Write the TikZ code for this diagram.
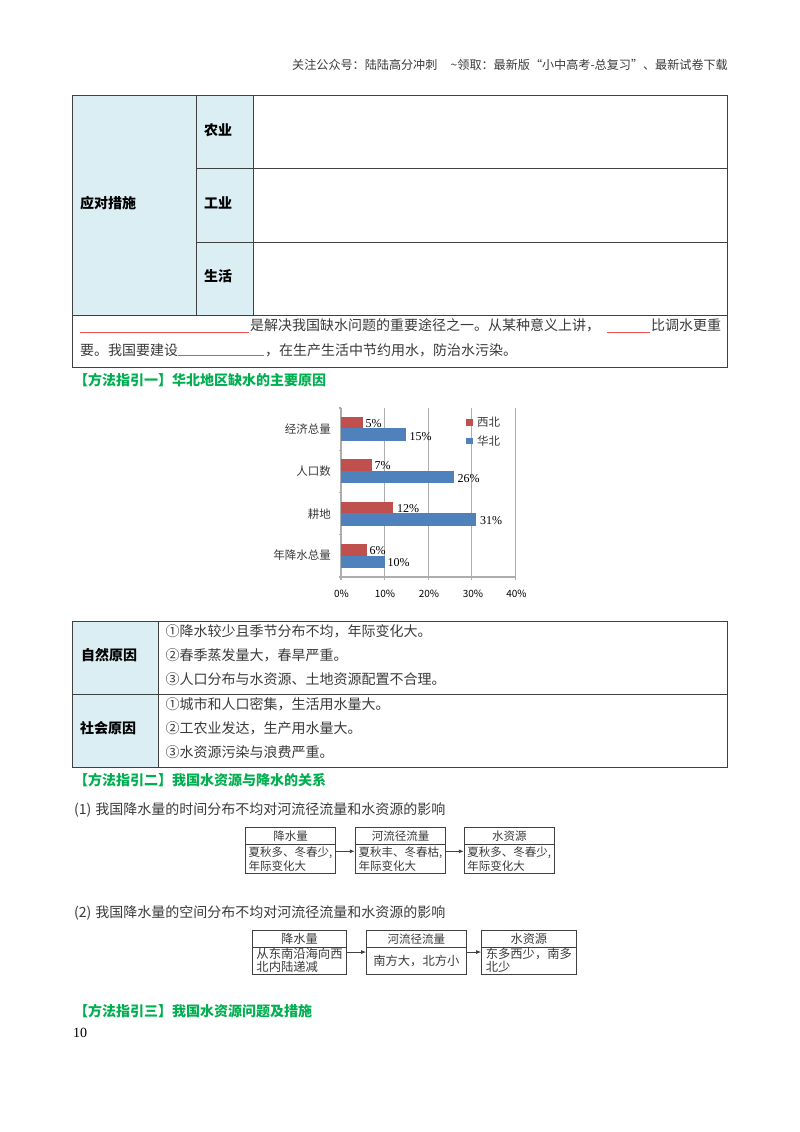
\documentclass[tikz,border=0pt]{standalone}
\usepackage{fontspec}
\setmainfont{Noto Sans CJK SC}
\newfontfamily\latinserif{Liberation Serif}
\usetikzlibrary{arrows.meta}
\definecolor{cellblue}{HTML}{DAEEF3}
\definecolor{headgreen}{HTML}{00B050}
\definecolor{barred}{HTML}{C0504D}
\definecolor{barblue}{HTML}{4F81BD}
\definecolor{inkgrey}{HTML}{3A3A3A}
\definecolor{rulegrey}{HTML}{404040}
\definecolor{gridgrey}{HTML}{ADADAD}
\definecolor{blankred}{HTML}{F05050}
\newcommand{\fs}[1]{\fontsize{#1pt}{#1pt}\selectfont}
\tikzset{
  tbl/.style={draw=rulegrey,line width=1pt},
  cellfill/.style={fill=cellblue,draw=rulegrey,line width=1pt},
  txt/.style={inner sep=0pt,anchor=west,text=inkgrey,font=\fs{14}},
  boldtxt/.style={inner sep=0pt,anchor=west,text=black,font=\fs{14}\bfseries},
  greenhead/.style={inner sep=0pt,anchor=west,text=headgreen,font=\fs{14}\bfseries},
  blank/.style={blankred,line width=0.9pt},
  cat/.style={inner sep=0pt,anchor=east,text=inkgrey,font=\fs{11.5}},
  pct/.style={inner sep=0pt,anchor=west,text=black,font=\fs{12}\latinserif},
  tick/.style={inner sep=0pt,anchor=center,text=black,font=\fs{10}},
  hdrtxt/.style={inner sep=0pt,text=inkgrey,font=\fs{12.1}},
  boxhead/.style={draw=rulegrey,line width=1pt,inner sep=0pt,align=center,text=inkgrey,font=\fs{11.5}},
  boxbody/.style={draw=rulegrey,line width=1pt,inner sep=0pt,align=left,text=inkgrey,font=\fontsize{11.5pt}{14.6pt}\selectfont},
  boxheadb/.style={boxhead,font=\fs{12.2}},
  boxbodyb/.style={boxbody,font=\fontsize{12.3pt}{12.9pt}\selectfont},
  flow/.style={draw=rulegrey,line width=0.9pt,-{Latex[length=5pt,width=4pt]}}
}
\begin{document}
\begin{tikzpicture}[x=1pt,y=-1pt]
\useasboundingbox[fill=white] (0,0) rectangle (800,1132);
% header
\node[hdrtxt,anchor=west] (hdr1) at (292,64.5) {关注公众号：陆陆高分冲刺};
\node[hdrtxt,anchor=east] (hdr2) at (728,64.5) {\textasciitilde 领取：最新版“小中高考-总复习”、最新试卷下载};
% top table
\draw[cellfill] (72.5,95.5) rectangle (196,315);
\draw[cellfill] (196,95.5) rectangle (253,168.5);
\draw[cellfill] (196,168.5) rectangle (253,242);
\draw[cellfill] (196,242) rectangle (253,315);
\draw[tbl] (253,95.5) rectangle (727.5,168.5);
\draw[tbl] (253,168.5) rectangle (727.5,242);
\draw[tbl] (253,242) rectangle (727.5,315);
\draw[tbl] (72.5,315) rectangle (727.5,367);
\node[boldtxt] (yd) at (80,203) {应对措施};
\node[boldtxt] (ny) at (204,130) {农业};
\node[boldtxt] (gy) at (204,203) {工业};
\node[boldtxt] (sh) at (204,276) {生活};
\draw[blank] (80,332) -- (249,332);
\node[txt] (l1a) at (250,325) {是解决我国缺水问题的重要途径之一。从某种意义上讲，};
\draw[blank] (607,332) -- (650,332);
\node[txt] (l1b) at (651,325) {比调水更重};
\node[txt] (l2a) at (80,350) {要。我国要建设};
\draw[blank] (178,355.5) -- (264,355.5);
\node[txt] (l2b) at (265,350) {，在生产生活中节约用水，防治水污染。};
\node[greenhead] (g1) at (74,380) {【方法指引一】华北地区缺水的主要原因};
% chart
\foreach \v in {10,20,30,40}
  \draw[gridgrey,line width=1.2pt] ({341+\v*4.36},408) -- ({341+\v*4.36},577);
\draw[gridgrey,line width=1.2pt] (341,408) -- (341,577) -- (515.4,577);
\foreach \y in {408,450.25,492.5,534.75,577}
  \draw[gridgrey,line width=1.2pt] (338.5,\y) -- (341,\y);
\foreach \v in {0,10,20,30,40}
  \draw[gridgrey,line width=1.2pt] ({341+\v*4.36},577) -- ({341+\v*4.36},579.5);
\fill[barred] (341,416.7) rectangle ++(21.8,11.6);
\fill[barblue] (341,428.3) rectangle ++(65.4,12.7);
\fill[barred] (341,459.3) rectangle ++(30.5,11.7);
\fill[barblue] (341,471) rectangle ++(113.4,12.3);
\fill[barred] (341,501.7) rectangle ++(52.3,11.6);
\fill[barblue] (341,513.3) rectangle ++(135.2,12.4);
\fill[barred] (341,543.7) rectangle ++(26.2,12);
\fill[barblue] (341,555.7) rectangle ++(43.6,12);
\node[pct] (p1) at (365.5,423.5) {5\%};
\node[pct] (p2) at (409.5,436.5) {15\%};
\node[pct] (p3) at (374.5,466) {7\%};
\node[pct] (p4) at (457.5,478.5) {26\%};
\node[pct] (p5) at (397,508.5) {12\%};
\node[pct] (p6) at (480,521) {31\%};
\node[pct] (p7) at (369.5,551) {6\%};
\node[pct] (p8) at (387.5,563) {10\%};
\node[cat] (c1) at (331,429) {经济总量};
\node[cat] (c2) at (331,471) {人口数};
\node[cat] (c3) at (331,514) {耕地};
\node[cat] (c4) at (331,555.5) {年降水总量};
\node[tick] (t0) at (341.5,594) {0\%};
\node[tick] (t1) at (385,594) {10\%};
\node[tick] (t2) at (429,594) {20\%};
\node[tick] (t3) at (473,594) {30\%};
\node[tick] (t4) at (516.5,594) {40\%};
\fill[barred] (466,419) rectangle ++(6.5,6.5);
\fill[barblue] (466,437.5) rectangle ++(6.5,6.5);
\node[cat,anchor=west] (lg1) at (477,422.5) {西北};
\node[cat,anchor=west] (lg2) at (477,441) {华北};
% cause table
\draw[cellfill] (72.5,621) rectangle (158.3,694);
\draw[cellfill] (72.5,694) rectangle (158.3,767.5);
\draw[tbl] (158.3,621) rectangle (727.5,694);
\draw[tbl] (158.3,694) rectangle (727.5,767.5);
\node[boldtxt] (zr) at (81,655.5) {自然原因};
\node[boldtxt] (shy) at (80,728.5) {社会原因};
\node[txt] (a1) at (165.5,631.5) {①降水较少且季节分布不均，年际变化大。};
\node[txt] (a2) at (165.5,655.5) {②春季蒸发量大，春旱严重。};
\node[txt] (a3) at (165.5,679.5) {③人口分布与水资源、土地资源配置不合理。};
\node[txt] (b1) at (165.5,704.5) {①城市和人口密集，生活用水量大。};
\node[txt] (b2) at (165.5,728.5) {②工农业发达，生产用水量大。};
\node[txt] (b3) at (165.5,752.5) {③水资源污染与浪费严重。};
\node[greenhead] (g2) at (74,780) {【方法指引二】我国水资源与降水的关系};
\node[txt] (q1) at (74,810) {(1)\hspace{4pt}我国降水量的时间分布不均对河流径流量和水资源的影响};
% flow 1
\node[boxhead,minimum width=90.4pt,minimum height=17.3pt] (a1h) at (290.5,836.3) {降水量};
\node[boxbody,minimum width=90.4pt,minimum height=28.7pt] (a1b) at (290.5,859.3) {夏秋多、冬春少,\\年际变化大};
\node[boxhead,minimum width=90.4pt,minimum height=17.3pt] (a2h) at (400.5,836.3) {河流径流量};
\node[boxbody,minimum width=90.4pt,minimum height=28.7pt] (a2b) at (400.5,859.3) {夏秋丰、冬春枯,\\年际变化大};
\node[boxhead,minimum width=90pt,minimum height=17.3pt] (a3h) at (509.3,836.3) {水资源};
\node[boxbody,minimum width=90pt,minimum height=28.7pt] (a3b) at (509.3,859.3) {夏秋多、冬春少,\\年际变化大};
\draw[flow] ([yshift=8pt]a1b.east) -- ([yshift=8pt]a2b.west);
\draw[flow] ([yshift=8pt]a2b.east) -- ([yshift=8pt]a3b.west);
\node[txt] (q2) at (74,913) {(2)\hspace{4pt}我国降水量的空间分布不均对河流径流量和水资源的影响};
% flow 2
\node[boxheadb,minimum width=94.4pt,minimum height=16.6pt] (c1h) at (299.5,939) {降水量};
\node[boxbodyb,minimum width=94.4pt,minimum height=26.7pt] (c1b) at (299.5,960.65) {从东南沿海向西\\北内陆递减};
\node[boxhead,minimum width=99.3pt,minimum height=16.6pt] (c2h) at (416.35,939) {河流径流量};
\node[boxbodyb,minimum width=99.3pt,minimum height=26.7pt] (c2b) at (416.35,960.65) {南方大，北方小};
\node[boxheadb,minimum width=94.3pt,minimum height=16.6pt] (c3h) at (528.85,939) {水资源};
\node[boxbodyb,minimum width=94.3pt,minimum height=26.7pt] (c3b) at (528.85,960.65) {东多西少，南多\\北少};
\draw[flow] ([yshift=8.6pt]c1b.east) -- ([yshift=8.6pt]c2b.west);
\draw[flow] ([yshift=8.6pt]c2b.east) -- ([yshift=8.6pt]c3b.west);
\node[greenhead] (g3) at (74,1011) {【方法指引三】我国水资源问题及措施};
\node[inner sep=0pt,anchor=west,text=black,font=\fs{14}\latinserif] (pg) at (73,1033) {10};
\end{tikzpicture}
\end{document}
